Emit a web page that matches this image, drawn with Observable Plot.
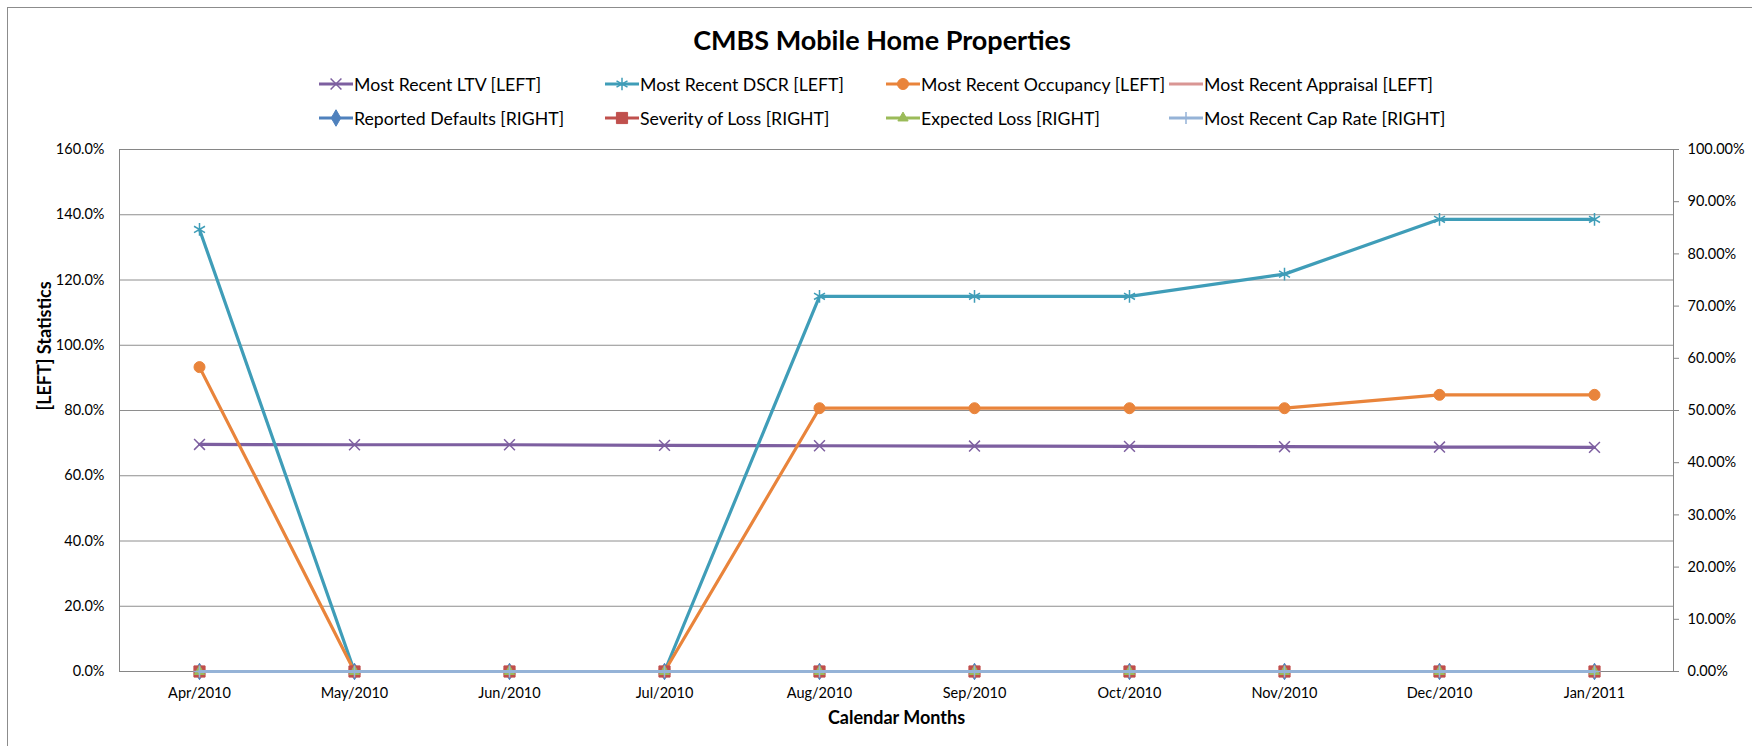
<!DOCTYPE html>
<html><head><meta charset="utf-8">
<script src="https://cdn.jsdelivr.net/npm/d3@7"></script>
<script src="https://cdn.jsdelivr.net/npm/@observablehq/plot@0.6"></script>
<style>
body{margin:0;background:#fff;overflow:hidden;font-family:Lato,"Open Sans",sans-serif;}
#wrap{position:relative;width:1752px;height:746px;overflow:hidden;}
#border{position:absolute;left:7px;top:7px;width:3000px;height:3000px;border-left:1px solid #8c8c8c;border-top:1px solid #8c8c8c;pointer-events:none;}
#header{position:relative;height:120px;}
#title{position:absolute;left:532px;width:700px;top:25px;line-height:30px;text-align:center;font-weight:bold;font-size:27px;color:#000;}
.li{position:absolute;display:flex;align-items:center;height:24px;font-size:17.7px;color:#000;white-space:nowrap;}
.li svg{flex:none;}
</style></head>
<body>
<div id="wrap">
<div id="border"></div>
<div id="header"><div id="title">CMBS Mobile Home Properties</div></div>
<div id="chart"></div>
</div>
<script>
const months = ["Apr/2010","May/2010","Jun/2010","Jul/2010","Aug/2010","Sep/2010","Oct/2010","Nov/2010","Dec/2010","Jan/2011"];
// left-axis series (percent)
const ltv       = [69.6, 69.5, 69.5, 69.3, 69.2, 69.1, 69.0, 68.9, 68.8, 68.7];
const dscr      = [135.5, 0, 0, 0, 115.0, 115.0, 115.0, 121.8, 138.6, 138.6];
const occupancy = [93.3, 0, 0, 0, 80.7, 80.7, 80.7, 80.7, 84.8, 84.8];
const appraisal = [0, 0, 0, 0, 0, 0, 0, 0, 0, 0];
// right-axis series (percent)
const defaults  = [0, 0, 0, 0, 0, 0, 0, 0, 0, 0];
const severity  = [0, 0, 0, 0, 0, 0, 0, 0, 0, 0];
const expected  = [0, 0, 0, 0, 0, 0, 0, 0, 0, 0];
const capRate   = [0, 0, 0, 0, 0, 0, 0, 0, 0, 0];

const leftTicks  = [0, 20, 40, 60, 80, 100, 120, 140, 160];
const rightTicks = [0, 10, 20, 30, 40, 50, 60, 70, 80, 90, 100];
const leftMax = 160, rightMax = 100;
const k = leftMax / rightMax;

const series = [
  {name:"Most Recent LTV [LEFT]",        values:ltv,       right:false, color:"#7D5FA0", symbol:"times",    r:5,   filled:false},
  {name:"Most Recent DSCR [LEFT]",       values:dscr,      right:false, color:"#3F9DB8", symbol:"asterisk", r:6,   filled:false},
  {name:"Most Recent Occupancy [LEFT]",  values:occupancy, right:false, color:"#E9843B", symbol:"circle",   r:5.5, filled:true},
  {name:"Most Recent Appraisal [LEFT]",  values:appraisal, right:false, color:"#D99694", symbol:null},
  {name:"Reported Defaults [RIGHT]",     values:defaults,  right:true,  color:"#4F81BD", symbol:"diamond",  r:5,   filled:true},
  {name:"Severity of Loss [RIGHT]",      values:severity,  right:true,  color:"#C0504D", symbol:"square",   r:6.3, filled:true},
  {name:"Expected Loss [RIGHT]",         values:expected,  right:true,  color:"#9BBB59", symbol:"triangle", r:3.8, filled:true},
  {name:"Most Recent Cap Rate [RIGHT]",  values:capRate,   right:true,  color:"#95B3D7", symbol:"plus",     r:4,   filled:false}
];

// legend
const legendCols = [318, 604, 885, 1168];
const legendRows = [72, 106];
const header = document.getElementById("header");
const symMap = {times:d3.symbolTimes, asterisk:d3.symbolAsterisk, circle:d3.symbolCircle, diamond:d3.symbolDiamond, square:d3.symbolSquare, triangle:d3.symbolTriangle, plus:d3.symbolPlus};
series.forEach((s, i) => {
  const div = document.createElement("div");
  div.className = "li";
  div.style.left = legendCols[i % 4] + "px";
  div.style.top = legendRows[Math.floor(i / 4)] + "px";
  let mk = "";
  if (s.symbol) {
    const p = d3.symbol(symMap[s.symbol], Math.PI * s.r * s.r)();
    mk = s.filled ? `<path d="${p}" transform="translate(18,12)" fill="${s.color}" stroke="${s.color}"/>`
                  : `<path d="${p}" transform="translate(18,12)" fill="none" stroke="${s.color}" stroke-width="1.5"/>`;
  }
  div.innerHTML = `<svg width="36" height="24"><line x1="1" x2="35" y1="12" y2="12" stroke="${s.color}" stroke-width="3.2"/>${mk}</svg><span>${s.name}</span>`;
  header.appendChild(div);
});

const marks = [
  Plot.gridY(leftTicks, {stroke:"#8e8e8e", strokeOpacity:1}),
  Plot.frame({stroke:"#868686"}),
  Plot.axisY(leftTicks, {anchor:"left", tickSize:0, tickPadding:15, tickFormat:d => d.toFixed(1) + "%", label:null, fontSize:14.5}),
  Plot.axisY(rightTicks.map(v => v * k), {anchor:"right", tickSize:5, tickPadding:9, stroke:"#868686", tickFormat:d => (d / k).toFixed(2) + "%", label:null, fontSize:14.5}),
  Plot.axisX({tickSize:0, tickPadding:16, label:null, fontSize:14.5}),
  Plot.text(["[LEFT] Statistics"], {frameAnchor:"left", dx:-74, rotate:-90, fontWeight:"bold", fontSize:18}),
  Plot.text(["Calendar Months"], {frameAnchor:"bottom", dy:52, fontWeight:"bold", fontSize:18})
];
series.forEach(s => {
  const rows = s.values.map((v, i) => ({month:months[i], y: s.right ? v * k : v}));
  marks.push(Plot.lineY(rows, {x:"month", y:"y", stroke:s.color, strokeWidth:3.2, strokeLinejoin:"round"}));
  if (s.symbol) {
    marks.push(s.filled
      ? Plot.dot(rows, {x:"month", y:"y", symbol:s.symbol, r:s.r, fill:s.color, stroke:s.color, strokeWidth:1})
      : Plot.dot(rows, {x:"month", y:"y", symbol:s.symbol, r:s.r, fill:"none", stroke:s.color, strokeWidth:1.5}));
  }
});

const chart = Plot.plot({
  width:1752, height:626,
  marginTop:29, marginLeft:119, marginRight:79, marginBottom:75,
  style:{fontFamily:"Lato, 'Open Sans', sans-serif", fontSize:"14.5px", color:"#000", background:"transparent"},
  x:{type:"point", domain:months, padding:0.5},
  y:{domain:[0, leftMax]},
  marks
});
document.getElementById("chart").appendChild(chart);
</script>
</body></html>
